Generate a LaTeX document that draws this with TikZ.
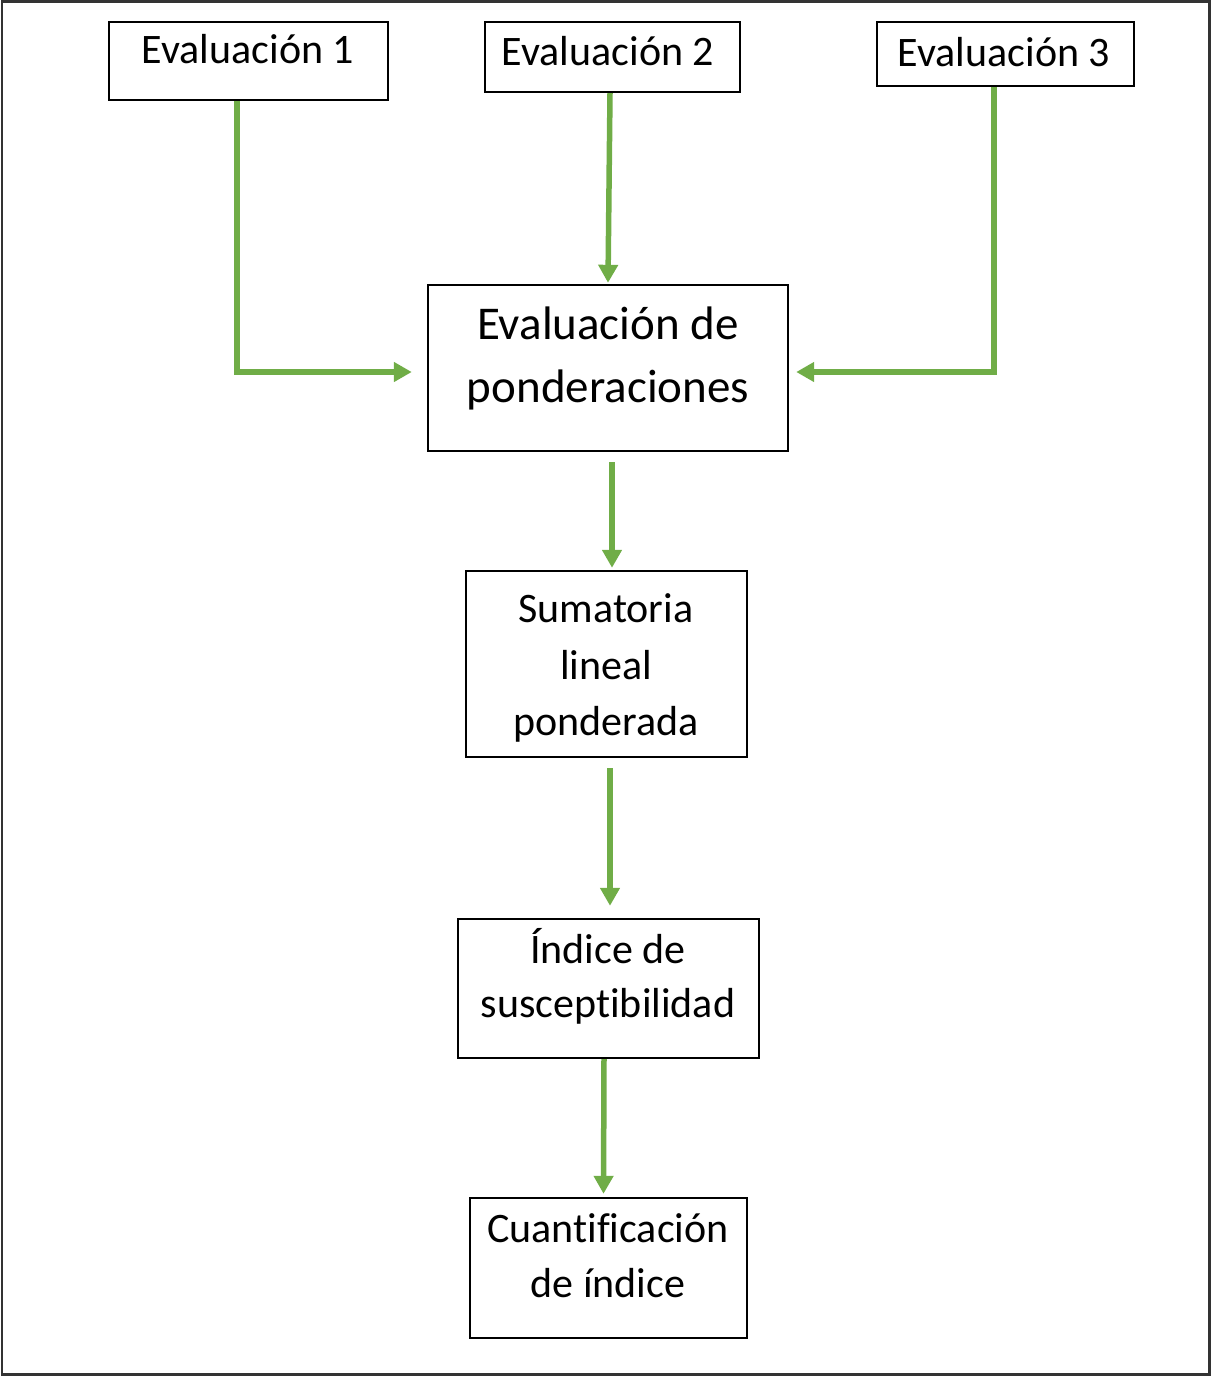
\documentclass[tikz,border=0pt]{standalone}
\usepackage{fontspec}
\setmainfont[RawFeature={-liga;-calt;-clig;-dlig}]{Carlito}
\usetikzlibrary{arrows.meta}
\definecolor{arrowgreen}{HTML}{70AD47}
\definecolor{framegray}{HTML}{333333}
\begin{document}
\begin{tikzpicture}[x=1pt,y=-1pt,
  boxnode/.style={draw=black,line width=2.4pt,inner sep=0pt},
  txt/.style={anchor=base,inner sep=0pt,font=\fontsize{42}{50}\selectfont},
  bigtxt/.style={anchor=base,inner sep=0pt,font=\fontsize{47}{56}\selectfont},
  flow/.style={draw=arrowgreen,line width=5.5pt,-{Triangle[length=18pt,width=19pt]}}]
\useasboundingbox (0,0) rectangle (1211,1376);
\draw[framegray,line width=2.2pt] (2,1.5) rectangle (1209.5,1374.5);
% boxes
\node[boxnode,minimum width=279pt,minimum height=78pt] (e1) at (248.5,61) {};
\node[boxnode,minimum width=255pt,minimum height=70pt] (e2) at (612.5,57) {};
\node[boxnode,minimum width=257pt,minimum height=64pt] (e3) at (1005.5,54) {};
\node[boxnode,minimum width=360pt,minimum height=166pt] (pond) at (608,368) {};
\node[boxnode,minimum width=281pt,minimum height=186pt] (sum) at (606.5,664) {};
\node[boxnode,minimum width=301pt,minimum height=139pt] (ind) at (608.5,988.5) {};
\node[boxnode,minimum width=277pt,minimum height=140pt] (cuant) at (608.5,1268) {};
% texts
\node[txt] (t1) at (248,63) {Evaluación 1};
\node[txt] (t2) at (608,65) {Evaluación 2};
\node[txt] (t3) at (1004,66) {Evaluación 3};
\node[bigtxt] (tp1) at (608,339) {Evaluación de};
\node[bigtxt] (tp2) at (608,402) {ponderaciones};
\node[txt] (ts1) at (606,622) {Sumatoria};
\node[txt] (ts2) at (606,679) {lineal};
\node[txt] (ts3) at (606,735) {ponderada};
\node[txt] (ti1) at (608,963) {Índice de};
\node[txt] (ti2) at (608,1017) {suscept\kern0pt ibilidad};
\node[txt] (tc1) at (608,1242) {Cuant\kern0pt ificación};
\node[txt] (tc2) at (608,1297) {de índice};
% connectors
\coordinate (c1) at (237,372);
\coordinate (c3) at (994,372);
\draw[flow] (e1.south -| c1) -- (c1) -- ([xshift=-15pt]pond.west |- c1);
\draw[flow] ([xshift=-2.5pt]e2.south) -- ([yshift=1pt]pond.north);
\draw[flow] (e3.south -| c3) -- (c3) -- ([xshift=7pt]pond.east |- c3);
\draw[flow] ([yshift=-10pt]pond.south -| 612,0) -- ([yshift=2pt]sum.north -| 612,0);
\draw[flow] ([yshift=-10pt]sum.south -| 610,0) -- ([yshift=12pt]ind.north -| 610,0);
\draw[flow] (ind.south -| 604,0) -- ([xshift=-5pt,yshift=3pt]cuant.north);
\end{tikzpicture}
\end{document}
